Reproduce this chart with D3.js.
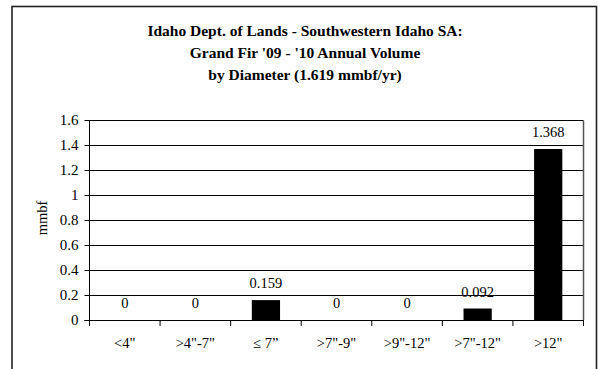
<!DOCTYPE html>
<html>
<head>
<meta charset="utf-8">
<script src="https://cdn.jsdelivr.net/npm/d3@7"></script>
<style>
  html, body { margin: 0; padding: 0; background: #fff; }
  svg text { font-family: "Liberation Serif", "Times New Roman", serif; fill: #000; }
</style>
</head>
<body>
<svg id="chart" width="598" height="369"></svg>
<script>
const titleLines = [
  "Idaho Dept. of Lands - Southwestern Idaho SA:",
  "Grand Fir '09 - '10 Annual Volume",
  "by Diameter (1.619 mmbf/yr)"
];
const categories = ['<4"', '>4"-7"', '\u2264 7\u201D', '>7"-9"', '>9"-12"', '>7"-12"', '>12"'];
const values = [0, 0, 0.159, 0, 0, 0.092, 1.368];
const valueLabels = ["0", "0", "0.159", "0", "0", "0.092", "1.368"];
const yTicks = [0, 0.2, 0.4, 0.6, 0.8, 1, 1.2, 1.4, 1.6];
const yLabel = "mmbf";

(function () {
const svg = d3.select("#chart");

// outer frame
svg.append("rect")
  .attr("x", 12).attr("y", 6.5)
  .attr("width", 584.5).attr("height", 380)
  .attr("fill", "none").attr("stroke", "#222").attr("stroke-width", 1.6);

// title
svg.append("g").selectAll("text").data(titleLines).join("text")
  .attr("x", 305).attr("y", (d, i) => 36 + i * 22)
  .attr("text-anchor", "middle")
  .attr("font-weight", "bold")
  .attr("font-size", 15.5)
  .text(d => d);

const pLeft = 89.5, pRight = 583.5, pTop = 120, pBottom = 320;

const x = d3.scaleBand().domain(categories).range([pLeft, pRight]).paddingInner(0).paddingOuter(0);
const y = d3.scaleLinear().domain([0, 1.6]).range([pBottom, pTop]);

// gridlines
svg.append("g").selectAll("line").data(yTicks.filter(t => t > 0)).join("line")
  .attr("x1", pLeft).attr("x2", pRight)
  .attr("y1", d => Math.round(y(d)) + 0.5).attr("y2", d => Math.round(y(d)) + 0.5)
  .attr("stroke", "#000").attr("stroke-width", 1);

// plot box right side
svg.append("line")
  .attr("x1", pRight).attr("x2", pRight).attr("y1", pTop + 0.5).attr("y2", pBottom)
  .attr("stroke", "#555").attr("stroke-width", 1.5);

// bars
const bw = x.bandwidth() * 0.4;
svg.append("g").selectAll("rect").data(values).join("rect")
  .attr("x", (d, i) => x(categories[i]) + x.bandwidth() / 2 - bw / 2)
  .attr("width", bw)
  .attr("y", d => y(d))
  .attr("height", d => y(0) - y(d))
  .attr("fill", "#000");

// value labels
svg.append("g").selectAll("text").data(values).join("text")
  .attr("x", (d, i) => x(categories[i]) + x.bandwidth() / 2)
  .attr("y", d => y(d) - 12)
  .attr("text-anchor", "middle")
  .attr("font-size", 14.5)
  .text((d, i) => valueLabels[i]);

// y axis
const yAxis = d3.axisLeft(y).tickValues(yTicks).tickSize(5).tickPadding(6)
  .tickFormat(d => String(+d.toFixed(1)));
const gy = svg.append("g").attr("transform", `translate(${pLeft},0)`).call(yAxis);
gy.select(".domain").attr("stroke", "#000").attr("d", `M0,${pTop}V${pBottom}`);
gy.selectAll(".tick line").attr("stroke", "#000");
gy.selectAll(".tick text").attr("font-size", 15).attr("font-family", "Liberation Serif, serif");

// x axis with ticks at band boundaries
svg.append("line").attr("x1", pLeft - 5).attr("x2", pRight).attr("y1", pBottom + 0.5).attr("y2", pBottom + 0.5)
  .attr("stroke", "#000").attr("stroke-width", 1.2);
const boundaries = categories.map(c => x(c)).concat([pRight]);
svg.append("g").selectAll("line").data(boundaries).join("line")
  .attr("x1", d => d).attr("x2", d => d)
  .attr("y1", pBottom).attr("y2", pBottom + 6)
  .attr("stroke", "#000");
svg.append("g").selectAll("text").data(categories).join("text")
  .attr("x", d => x(d) + x.bandwidth() / 2)
  .attr("y", 348)
  .attr("text-anchor", "middle")
  .attr("font-size", 14.5)
  .text(d => d);

// y label
svg.append("text")
  .attr("transform", "translate(47,218) rotate(-90)")
  .attr("text-anchor", "middle")
  .attr("font-size", 14.5)
  .text(yLabel);
})();
</script>
</body>
</html>
